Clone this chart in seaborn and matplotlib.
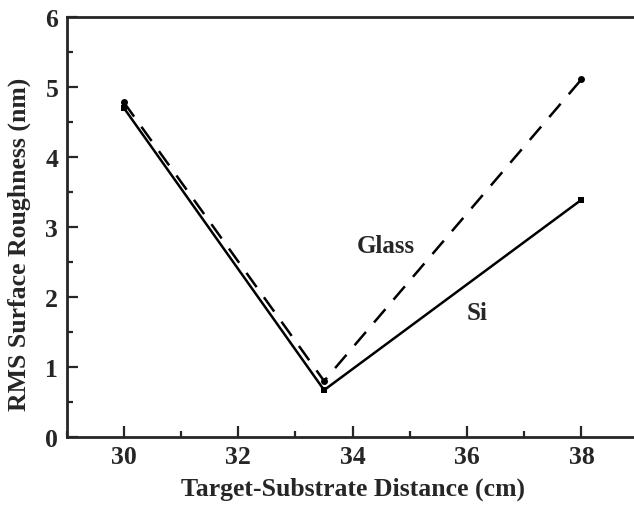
import numpy as np
import pandas as pd
import seaborn as sns
from matplotlib import pyplot as plt
from matplotlib.ticker import MultipleLocator

distance = [30, 33.5, 38]
rough_si = [4.70, 0.67, 3.39]
rough_glass = [4.78, 0.80, 5.11]

sns.set_style('ticks')
plt.rcParams['font.family'] = ['Liberation Serif', 'DejaVu Serif']
plt.rcParams['font.weight'] = 'bold'

fig = plt.figure(figsize=(6.34, 5.06), dpi=100)
ax = fig.add_axes([0.1052, 0.1344, 0.9022, 0.8300])

df_si = pd.DataFrame({'d': distance, 'r': rough_si})
df_glass = pd.DataFrame({'d': distance, 'r': rough_glass})

sns.lineplot(data=df_si, x='d', y='r', ax=ax, color='black', lw=1.8,
             marker='s', markersize=4.5, markeredgewidth=0)
sns.lineplot(data=df_glass, x='d', y='r', ax=ax, color='black', lw=1.8,
             marker='o', markersize=5, markeredgewidth=0)
ax.lines[1].set_linestyle((0, (7, 5)))

ax.text(34.07, 2.74, 'Glass', fontsize=18, fontweight='bold', va='center', ha='left')
ax.text(35.99, 1.78, 'Si', fontsize=18, fontweight='bold', va='center', ha='left')

ax.set_xlim(29, 39)
ax.set_ylim(0, 6)
ax.xaxis.set_major_locator(MultipleLocator(2))
ax.xaxis.set_minor_locator(MultipleLocator(1))
ax.yaxis.set_major_locator(MultipleLocator(1))
ax.yaxis.set_minor_locator(MultipleLocator(0.5))
ax.tick_params(which='major', direction='in', length=8, width=1.6, labelsize=18.5,
               top=False, right=False, pad=6)
ax.tick_params(which='minor', direction='in', length=4.5, width=1.6, top=False, right=False)
for t in ax.get_xticklabels() + ax.get_yticklabels():
    t.set_fontweight('bold')

for s in ['left', 'bottom', 'top']:
    ax.spines[s].set_linewidth(2)
ax.spines['right'].set_visible(False)

ax.set_xlabel('Target-Substrate Distance (cm)', fontsize=18.5, fontweight='bold', labelpad=6)
ax.set_ylabel('RMS Surface Roughness (nm)', fontsize=18.5, fontweight='bold')
ax.yaxis.set_label_coords(-0.062, 0.462)

fig.savefig('out.png', dpi=100)
